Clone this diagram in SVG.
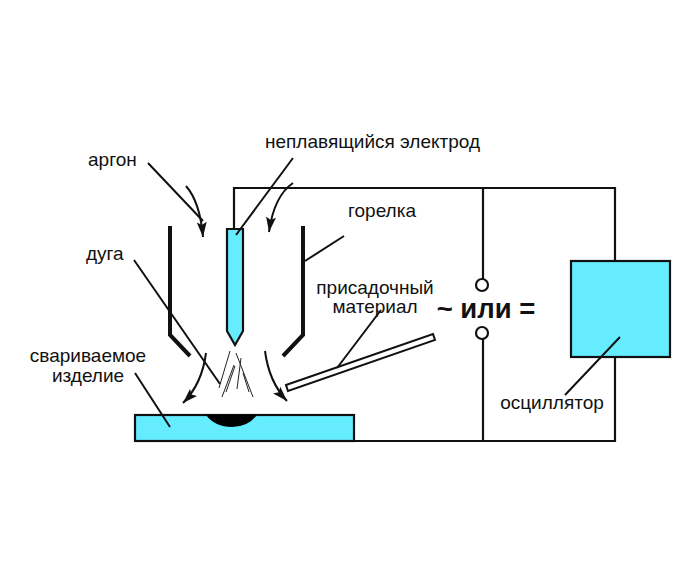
<svg xmlns="http://www.w3.org/2000/svg" width="700" height="574" viewBox="0 0 700 574">
<style>
.t{font-family:"Liberation Sans",Arial,sans-serif;font-size:19px;fill:#111}
.w{fill:none;stroke:#111;stroke-width:2.2}
.l{fill:none;stroke:#111;stroke-width:2}
.b{fill:none;stroke:#111;stroke-width:4}
.c{fill:#66ecff;stroke:#111;stroke-width:2.2}
.s{fill:none;stroke:#222;stroke-width:1}
</style>
<defs>
<marker id="a" markerUnits="userSpaceOnUse" markerWidth="16" markerHeight="12" refX="15" refY="5" orient="auto"><path d="M0 0L15 5L0 10L3 5Z" fill="#111"/></marker>
</defs>
<rect width="700" height="574" fill="#fff"/>
<g id="torch"><path class="b" d="M170 226V335L190 356M303 226V335L283 356"/></g>
<g id="electrode"><path class="c" d="M227 229H243V331L235 345L227 331Z"/></g>
<g id="workpiece"><rect class="c" x="135" y="415" width="219" height="26"/><path d="M206 415H257Q248 427 232 427Q215 427 206 415Z" fill="#000"/></g>
<g id="filler"><path d="M286 385L433 334L435 340L288 391Z" fill="#fff" stroke="#111" stroke-width="2"/></g>
<g id="oscillator"><rect class="c" x="571" y="261" width="99" height="96"/></g>
<g id="switch"><circle cx="482" cy="285" r="6" fill="#fff" stroke="#111" stroke-width="2.2"/><circle cx="482" cy="333" r="6" fill="#fff" stroke="#111" stroke-width="2.2"/></g>
<g id="connectors">
<path class="w" d="M234 229V188H615V261M483 188V279M483 339V441H135M615 357V441H354"/>
<path class="l" d="M148 163L203 221M236 235L293 158M134 260L220 384M305 261L344 236M337 368L381 310M135 373L170 427M565 395L620 337"/>
<path class="l" marker-end="url(#a)" d="M186 186Q200 202 203 237"/>
<path class="l" marker-end="url(#a)" d="M293 183Q274 196 269 232"/>
<path class="l" marker-end="url(#a)" d="M206 353Q202 384 183 403"/>
<path class="l" marker-end="url(#a)" d="M265 351Q269 382 287 401"/>
<path class="s" d="M230 351L219 388M234 365L222 397M235 366L226 392M236 353L253 397M241 358L237 389M243 373L249 392"/>
</g>
<g id="labels">
<text class="t" x="88" y="166">аргон</text>
<text class="t" x="265" y="148">неплавящийся электрод</text>
<text class="t" x="348" y="217">горелка</text>
<text class="t" x="86" y="260">дуга</text>
<text class="t" x="375" y="294" text-anchor="middle">присадочный</text>
<text class="t" x="375" y="313" text-anchor="middle">материал</text>
<text class="t" x="88" y="362" text-anchor="middle">свариваемое</text>
<text class="t" x="88" y="382" text-anchor="middle">изделие</text>
<text class="t" x="552" y="409" text-anchor="middle">осциллятор</text>
<text x="486" y="318" text-anchor="middle" style="font-family:'Liberation Sans',Arial,sans-serif;font-size:27.5px;font-weight:bold;fill:#111">~ или =</text>
</g>
</svg>
